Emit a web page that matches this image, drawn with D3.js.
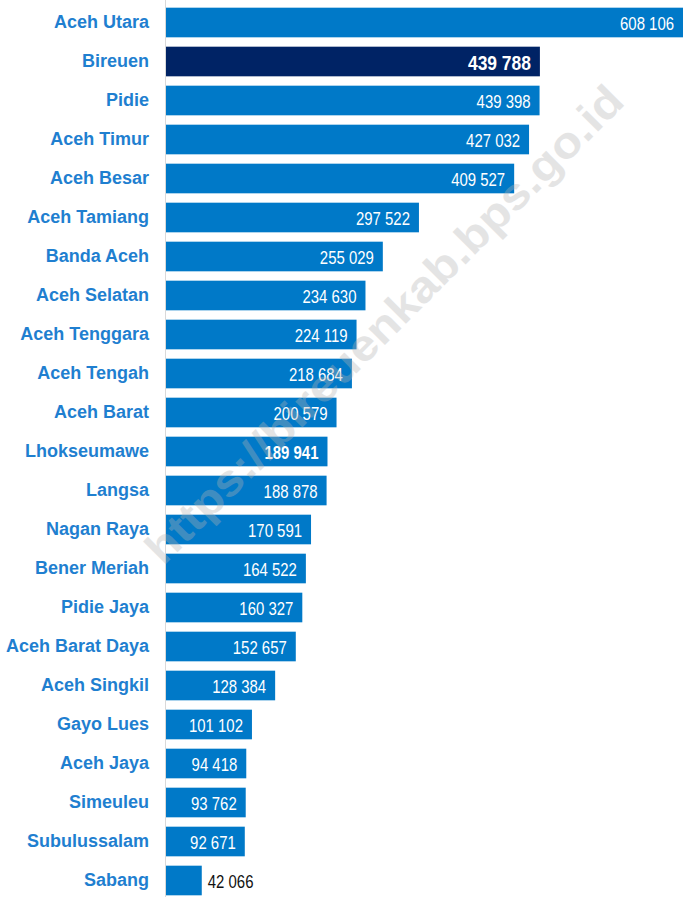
<!DOCTYPE html>
<html>
<head>
<meta charset="utf-8">
<script src="https://cdn.jsdelivr.net/npm/d3@7"></script>
<style>
  body { margin: 0; background: #fff; }
  .lbl { font-family: "Liberation Sans", Arial, sans-serif; font-weight: bold; fill: #1f7fd0; }
  .val { font-family: "Liberation Sans Narrow", "Arial Narrow", "Liberation Sans", sans-serif; }
</style>
</head>
<body>
<svg id="chart" width="685" height="897"></svg>
<script>
// regencies / cities and population
var regions = ["Aceh Utara", "Bireuen", "Pidie", "Aceh Timur", "Aceh Besar", "Aceh Tamiang",
  "Banda Aceh", "Aceh Selatan", "Aceh Tenggara", "Aceh Tengah", "Aceh Barat", "Lhokseumawe",
  "Langsa", "Nagan Raya", "Bener Meriah", "Pidie Jaya", "Aceh Barat Daya", "Aceh Singkil",
  "Gayo Lues", "Aceh Jaya", "Simeuleu", "Subulussalam", "Sabang"];
var population = [608106, 439788, 439398, 427032, 409527, 297522, 255029, 234630, 224119,
  218684, 200579, 189941, 188878, 170591, 164522, 160327, 152657, 128384, 101102, 94418,
  93762, 92671, 42066];
var highlight = "Bireuen";
var boldValue = "Lhokseumawe";
var watermark = "https://bireuenkab.bps.go.id";

var data = regions.map(function (r, i) { return {name: r, value: population[i]}; });

const svg = d3.select("#chart"),
    margin = {top: 3, right: 2, bottom: 0, left: 166},
    width = +svg.attr("width"),
    height = +svg.attr("height");

const x = d3.scaleLinear()
    .domain([0, d3.max(population)])
    .range([margin.left, width - margin.right]);

const y = d3.scaleBand()
    .domain(regions)
    .range([margin.top, margin.top + 39 * regions.length])
    .paddingInner(0.24)
    .paddingOuter(0.12);

// axis line
svg.append("line")
    .attr("x1", margin.left - 0.5).attr("x2", margin.left - 0.5)
    .attr("y1", 0).attr("y2", height)
    .attr("stroke", "#d9d9d9");

const bars = svg.selectAll("g.bar").data(data).enter().append("g").attr("class", "bar");

bars.append("rect")
    .attr("x", x(0))
    .attr("y", function (d) { return y(d.name); })
    .attr("width", function (d) { return x(d.value) - x(0); })
    .attr("height", y.bandwidth())
    .attr("fill", function (d) { return d.name == highlight ? "#002365" : "#0079c8"; });

// category labels
bars.append("text")
    .attr("class", "lbl")
    .attr("x", 149)
    .attr("y", function (d) { return y(d.name) + y.bandwidth() / 2 - 1; })
    .attr("dy", "0.36em")
    .attr("text-anchor", "end")
    .style("font-size", "18px")
    .text(function (d) { return d.name; });

// value labels (condensed by horizontal scaling)
var fmt = function (v) { return d3.format(",")(v).replace(/,/g, " "); };
var outside = function (d) { return x(d.value) - x(0) < 60; };
bars.append("text")
    .attr("class", "val")
    .attr("transform", function (d) {
        var tx = outside(d) ? x(d.value) + 6 : x(d.value) - 9;
        var ty = y(d.name) + y.bandwidth() / 2 + 1;
        return "translate(" + tx + "," + ty + ") scale(0.83,1)";
    })
    .attr("dy", "0.36em")
    .attr("text-anchor", function (d) { return outside(d) ? "start" : "end"; })
    .style("font-size", function (d) { return d.name == highlight ? "21px" : "18px"; })
    .style("font-weight", function (d) { return (d.name == highlight || d.name == boldValue) ? "bold" : "normal"; })
    .style("fill", function (d) { return outside(d) ? "#111" : "#fff"; })
    .text(function (d) { return fmt(d.value); });

// watermark on top
svg.append("text")
    .attr("transform", "translate(384,324) rotate(-45)")
    .attr("text-anchor", "middle")
    .attr("dy", "0.35em")
    .attr("textLength", 655)
    .attr("lengthAdjust", "spacingAndGlyphs")
    .style("font-family", "Liberation Sans, Arial, sans-serif")
    .style("font-weight", "bold")
    .style("font-size", "44px")
    .style("fill", "#b4b4b4")
    .style("opacity", 0.35)
    .text(watermark);
</script>
</body>
</html>
